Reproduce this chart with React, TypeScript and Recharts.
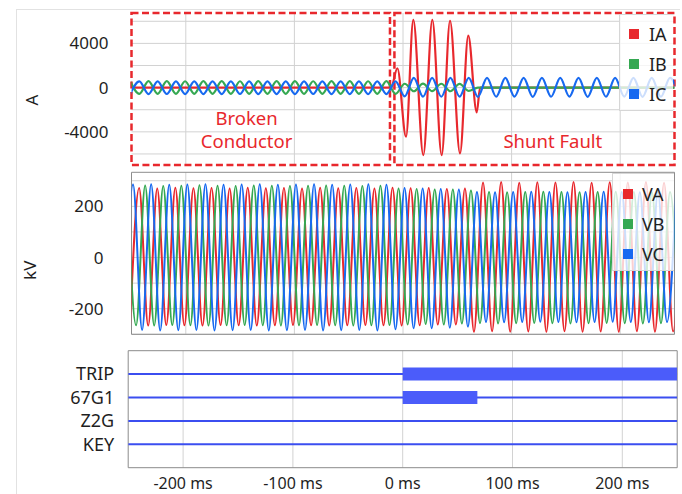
import { LineChart, Line, XAxis, YAxis, CartesianGrid, ReferenceArea, ReferenceDot } from 'recharts';

const W = 682;
const TEXT = '#1f1f1f';
const RED = '#e8282d';
const GREEN = '#35a852';
const BLUE = '#1769f0';
const SIG_LINE = '#3b4ef0';
const SIG_BAR = '#4b5cfa';
const GRID = '#d2d2d2';
const FRAME = '#8c8c8c';

const X_DOMAIN: [number, number] = [-250, 250];
const xTicks = [-200, -100, 0, 100, 200];

// ---- currents (A) ----
const currentTicks = [-4000, 0, 4000];
const currentGrid = [-6000, -4000, -2000, 0, 2000, 4000, 6000];

// IA turning points (ms, A)
const iaTimes = [-250, -11, -5.2, 2.8, 9.5, 18.7, 27, 35.6, 43.3, 52.5, 60.1, 67.9, 71, 250];
const iaValues = [0, 0, 1750, -4440, 6120, -6100, 6120, -6100, 6050, -5950, 4700, -2240, 0, 0];

// IB / IC peaks and troughs, one every half cycle
const currentStart = -251.2;
const currentHalfCycle = 8.425;
const ibPeaks = [
  575, -565, 580, -560, 585, -565, 575, -565, 580, -560, 585, -565, 575, -560, 580,
  -565, 580, -560, 585, -565, 575, -565, 580, -560, 585, -565, 575, -560, 580, -565,
  350, -330, 360, -320, 350, -330, 340, -300,
  0, 0, 0, 0, 0, 0, 0, 0, 0, 0, 0, 0, 0, 0, 0, 0, 0, 0, 0, 0, 0, 0, 0,
];
const icPeaks = [
  -580, 560, -585, 565, -575, 560, -580, 570, -580, 560, -585, 565, -575, 560, -580,
  565, -580, 560, -585, 565, -575, 560, -580, 570, -580, 560, -585, 565, -580, 560,
  -790,
  880, -820, 890, -825, 885, -820, 880, -830, 885, -825, 880, -820, 885, -830, 880,
  -825, 885, -820, 880, -830, 885, -825, 880, -820, 885, -830, 880, -825, 885, -820,
];

// ---- voltages (kV) ----
const voltageTicks = [-200, 0, 200];
const voltageGrid = [-300, -200, -100, 0, 100, 200, 300];
const voltageHalfCycle = 1000 / 120;
const vaStart = -251.3;
const vbStart = -254.1;
const vcStart = -256.9;
const vaPeaks = [
  -265, 272, -266, 270, -264, 273, -265, 271, -266, 272, -264, 270, -265, 273, -266,
  271, -265, 272, -264, 270, -265, 273, -266, 271, -265, 272, -264, 270, -265, 273,
  -266, 271, -265, 272, -262, 268, -262, 270,
  -290, 293, -288, 295, -290, 292, -289, 294, -290, 293, -288, 295, -290, 292, -289,
  294, -290, 293, -288, 295, -290, 292, -289, 294,
];
const vbPeaks = [
  280, -265, 281, -266, 279, -264, 280, -265, 282, -266, 280, -265, 279, -264, 281,
  -265, 280, -266, 279, -265, 280, -264, 281, -265, 280, -266, 279, -265, 280, -264,
  270, -262, 268, -260, 266, -262, 266, -258, 262,
  -257, 256, -258, 255, -257, 256, -256, 257, -257, 256, -258, 255, -257, 256, -256,
  257, -257, 256, -258, 255, -257, 256, -257,
];
const vcPeaks = [
  -284, 285, -283, 286, -285, 284, -284, 285, -283, 286, -285, 284, -284, 285, -283,
  286, -285, 284, -284, 285, -283, 286, -285, 284, -284, 285, -283, 286, -285, 284,
  -280, 272, -276, 270, -276, 268, -274, 266, -270,
  256, -252, 255, -253, 256, -252, 257, -251, 256, -252, 255, -253, 256, -252, 257,
  -251, 256, -252, 255, -253, 256, -252, 256,
];

// ---- digital channels ----
const signalNames = ['TRIP', '67G1', 'Z2G', 'KEY'];
const signalActive: ([number, number] | null)[] = [[0, 250], [0, 68], null, null];

// ---- annotations on the current plot ----
const zones = [
  { from: -250, to: -12 },
  { from: -7.9, to: 250 },
];
const notes = [
  { t: -144, a: -2840, lines: ['Broken', 'Conductor'] },
  { t: 138, a: -4900, lines: ['Shunt Fault'] },
];

const wave = (start: number, step: number, values: number[]) =>
  values.map((v, i) => ({ t: +(start + i * step).toFixed(2), v }));

const iaData = iaTimes.map((t, i) => ({ t, v: iaValues[i] }));
const currents = [
  { name: 'IA', color: RED, data: iaData },
  { name: 'IB', color: GREEN, data: wave(currentStart, currentHalfCycle, ibPeaks) },
  { name: 'IC', color: BLUE, data: wave(currentStart, currentHalfCycle, icPeaks) },
];
const voltages = [
  { name: 'VA', color: RED, data: wave(vaStart, voltageHalfCycle, vaPeaks) },
  { name: 'VB', color: GREEN, data: wave(vbStart, voltageHalfCycle, vbPeaks) },
  { name: 'VC', color: BLUE, data: wave(vcStart, voltageHalfCycle, vcPeaks) },
];

const axisTitle = (text: string, x: number, dy: number) => (props: any) => {
  const vb = props.viewBox || { y: 0, height: 0 };
  const cy = vb.y + vb.height / 2 + dy;
  return (
    <text x={x} y={cy} transform={`rotate(-90 ${x} ${cy})`} textAnchor="middle"
      dominantBaseline="central" fontSize={17} fill={TEXT}>{text}</text>
  );
};

const noteLabel = (lines: string[]) => (props: any) => {
  const vb = props.viewBox;
  if (!vb) return null;
  return (
    <text x={vb.x} y={vb.y} textAnchor="middle" fill={RED} fontSize={18.5}>
      {lines.map((l, i) => (
        <tspan key={l} x={vb.x} dy={i === 0 ? '0.35em' : 22.7}>{l}</tspan>
      ))}
    </text>
  );
};

function SeriesLegend({ items, left, top, width, height, padTop, swatchLeft, textLeft }: any) {
  return (
    <div style={{
      position: 'absolute', left, top, width, height, boxSizing: 'border-box',
      background: 'rgba(255,255,255,0.78)', border: '1px solid #d6d6d6', borderRight: 'none',
    }}>
      {items.map((s: any, i: number) => (
        <div key={s.name} style={{ position: 'absolute', top: padTop + i * 30 - 15, left: 0, height: 30, width: '100%' }}>
          <div style={{ position: 'absolute', left: swatchLeft, top: 10, width: 10, height: 10, background: s.color }} />
          <div style={{ position: 'absolute', left: textLeft, top: 0, lineHeight: '30px', fontSize: 18, color: TEXT }}>{s.name}</div>
        </div>
      ))}
    </div>
  );
}

function CurrentPanel() {
  return (
    <LineChart width={W} height={170} margin={{ top: 13, right: 7.5, bottom: 5, left: 0 }}>
      <CartesianGrid stroke={GRID} horizontalValues={currentGrid} verticalValues={xTicks} />
      <XAxis type="number" dataKey="t" domain={X_DOMAIN} ticks={xTicks} allowDataOverflow hide />
      <YAxis type="number" domain={[-7000, 6750]} ticks={currentTicks} interval={0} allowDataOverflow
        width={131.5} axisLine={false} tickLine={false} tickSize={0} tickMargin={23}
        tick={{ fontSize: 17, fill: TEXT }} label={axisTitle('A', 31, 11)} />
      {currents.map((s) => (
        <Line key={s.name} data={s.data} dataKey="v" type="monotone" stroke={s.color} strokeWidth={2.2}
          dot={false} activeDot={false} isAnimationActive={false} />
      ))}
      {zones.map((z) => (
        <ReferenceArea key={z.from} x1={z.from} x2={z.to} y1={-7000} y2={6750} fill="none"
          stroke={RED} strokeWidth={2.5} strokeDasharray="7 3.5" />
      ))}
      {notes.map((n) => (
        <ReferenceDot key={n.t} x={n.t} y={n.a} r={0} fill="none" stroke="none" label={noteLabel(n.lines)} />
      ))}
    </LineChart>
  );
}

function VoltagePanel() {
  return (
    <LineChart width={W} height={170} margin={{ top: 2.3, right: 7.5, bottom: 5.7, left: 0 }}>
      <CartesianGrid stroke={GRID} horizontalValues={voltageGrid} verticalValues={xTicks} />
      <XAxis type="number" dataKey="t" domain={X_DOMAIN} ticks={xTicks} allowDataOverflow hide />
      <YAxis type="number" domain={[-300, 333]} ticks={voltageTicks} interval={0} allowDataOverflow
        width={131.5} axisLine={false} tickLine={false} tickSize={0} tickMargin={28}
        tick={{ fontSize: 17, fill: TEXT }} label={axisTitle('kV', 30, 17)} />
      {voltages.map((s) => (
        <Line key={s.name} data={s.data} dataKey="v" type="monotone" stroke={s.color} strokeWidth={2}
          dot={false} activeDot={false} isAnimationActive={false} />
      ))}
      <ReferenceArea x1={-250} x2={250} y1={-300} y2={333} fill="none" stroke={FRAME} />
    </LineChart>
  );
}

function SignalPanel() {
  const n = signalNames.length;
  return (
    <LineChart width={W} height={154} margin={{ top: 10.7, right: 4.8, bottom: 0, left: 0 }}>
      <CartesianGrid stroke={GRID} horizontal={false} verticalValues={xTicks} />
      <XAxis type="number" dataKey="t" domain={X_DOMAIN} ticks={xTicks} interval={0} allowDataOverflow
        height={26.3} axisLine={false} tickLine={false} tickSize={0} tickMargin={9.5}
        tickFormatter={(v: number) => `${v} ms`} tick={{ fontSize: 16, fill: TEXT }} />
      <YAxis type="number" domain={[0, n + 1]} ticks={[1, 2, 3, 4]} interval={0} allowDataOverflow
        width={128.2} axisLine={false} tickLine={false} tickSize={0} tickMargin={14}
        tickFormatter={(v: number) => signalNames[n - v]} tick={{ fontSize: 18, fill: TEXT }} />
      {signalNames.map((name, i) => (
        <Line key={name} data={[{ t: X_DOMAIN[0], v: n - i }, { t: X_DOMAIN[1], v: n - i }]} dataKey="v"
          stroke={SIG_LINE} strokeWidth={2} dot={false} activeDot={false} isAnimationActive={false} />
      ))}
      {signalNames.map((name, i) => {
        const span = signalActive[i];
        if (!span) return null;
        return (
          <Line key={`${name}-on`} data={[{ t: span[0], v: n - i }, { t: span[1], v: n - i }]} dataKey="v"
            stroke={SIG_BAR} strokeWidth={13} dot={false} activeDot={false} isAnimationActive={false} />
        );
      })}
      <ReferenceArea x1={-250} x2={250} y1={0} y2={n + 1} fill="none" stroke={FRAME} />
    </LineChart>
  );
}

export default function App() {
  return (
    <div style={{
      position: 'absolute', left: 0, top: 0, width: W, height: 494, background: '#fff',
      fontFamily: '"Noto Sans", sans-serif', color: TEXT, overflow: 'hidden',
    }}>
      <div style={{
        position: 'absolute', left: 16, top: 9, right: 2, bottom: 0,
        borderLeft: '1px solid #e2e2e2', borderTop: '1px solid #e2e2e2',
      }} />
      <div style={{ position: 'absolute', left: 0, top: 0 }}><CurrentPanel /></div>
      <div style={{ position: 'absolute', left: 0, top: 170 }}><VoltagePanel /></div>
      <div style={{ position: 'absolute', left: 0, top: 340 }}><SignalPanel /></div>
      <SeriesLegend items={currents} left={619} top={14} width={54} height={97} padTop={19} swatchLeft={9} textLeft={29} />
      <SeriesLegend items={voltages} left={612} top={173} width={62} height={98} padTop={20} swatchLeft={10} textLeft={29} />
    </div>
  );
}
